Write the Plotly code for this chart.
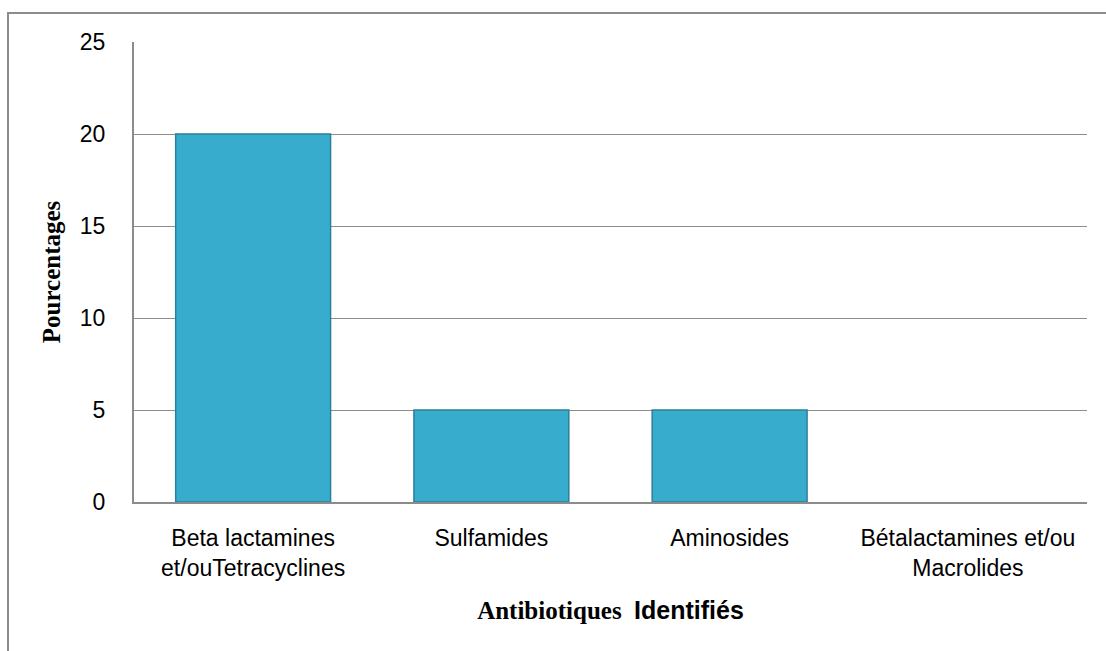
import plotly.graph_objects as go

categories = ["Beta lactamines<br>et/ouTetracyclines", "Sulfamides", "Aminosides",
              "Bétalactamines et/ou<br>Macrolides"]
values = [20, 5, 5, 0]
y_ticks = [0, 5, 10, 15, 20, 25]

L, R, T, B = 134, 19, 42, 149
W, H = 1106, 651
pw, ph = W - L - R, H - T - B

fig = go.Figure()
fig.add_trace(go.Bar(
    x=categories, y=values, width=0.65,
    marker=dict(color="#38ACCD",
                line=dict(color="#2B7F99", width=[1.5 if v > 0 else 0 for v in values])),
))

fig.update_layout(
    width=W, height=H,
    margin=dict(l=L, r=R, t=T, b=B, pad=0),
    paper_bgcolor="white", plot_bgcolor="white",
    showlegend=False,
    bargap=0.35,
    font=dict(family="Liberation Sans, Arial, sans-serif", size=23, color="black"),
    xaxis=dict(
        showgrid=False, showline=True, linecolor="#8C8C8C", linewidth=2,
        ticks="outside", ticklen=14, tickcolor="rgba(0,0,0,0)", tickfont=dict(size=23),
        title=dict(
            text="<b>Antibiotiques</b>  <span style=\"font-family:Liberation Sans\"><b>Identifiés</b></span>",
            font=dict(family="Liberation Serif, Times New Roman, serif", size=25),
            standoff=22,
        ),
    ),
    yaxis=dict(
        range=[0, 25], tickvals=y_ticks, showgrid=True, gridcolor="#8C8C8C", gridwidth=1.3,
        showline=True, linecolor="#8C8C8C", linewidth=2, zeroline=False,
        ticks="outside", ticklen=22, tickcolor="rgba(0,0,0,0)",
        tickfont=dict(size=23),
        title=dict(text="<b>Pourcentages</b>",
                   font=dict(family="Liberation Serif, Times New Roman, serif", size=25),
                   standoff=12),
    ),
    shapes=[dict(
        type="rect", xref="paper", yref="paper",
        x0=(8 - L) / pw, x1=(W + 10 - L) / pw,
        y0=(H - B - (H + 10)) / ph, y1=(H - B - 13) / ph,
        line=dict(color="#8C8C8C", width=2), fillcolor="rgba(0,0,0,0)", layer="below",
    )],
)

fig.write_html("out.html")
